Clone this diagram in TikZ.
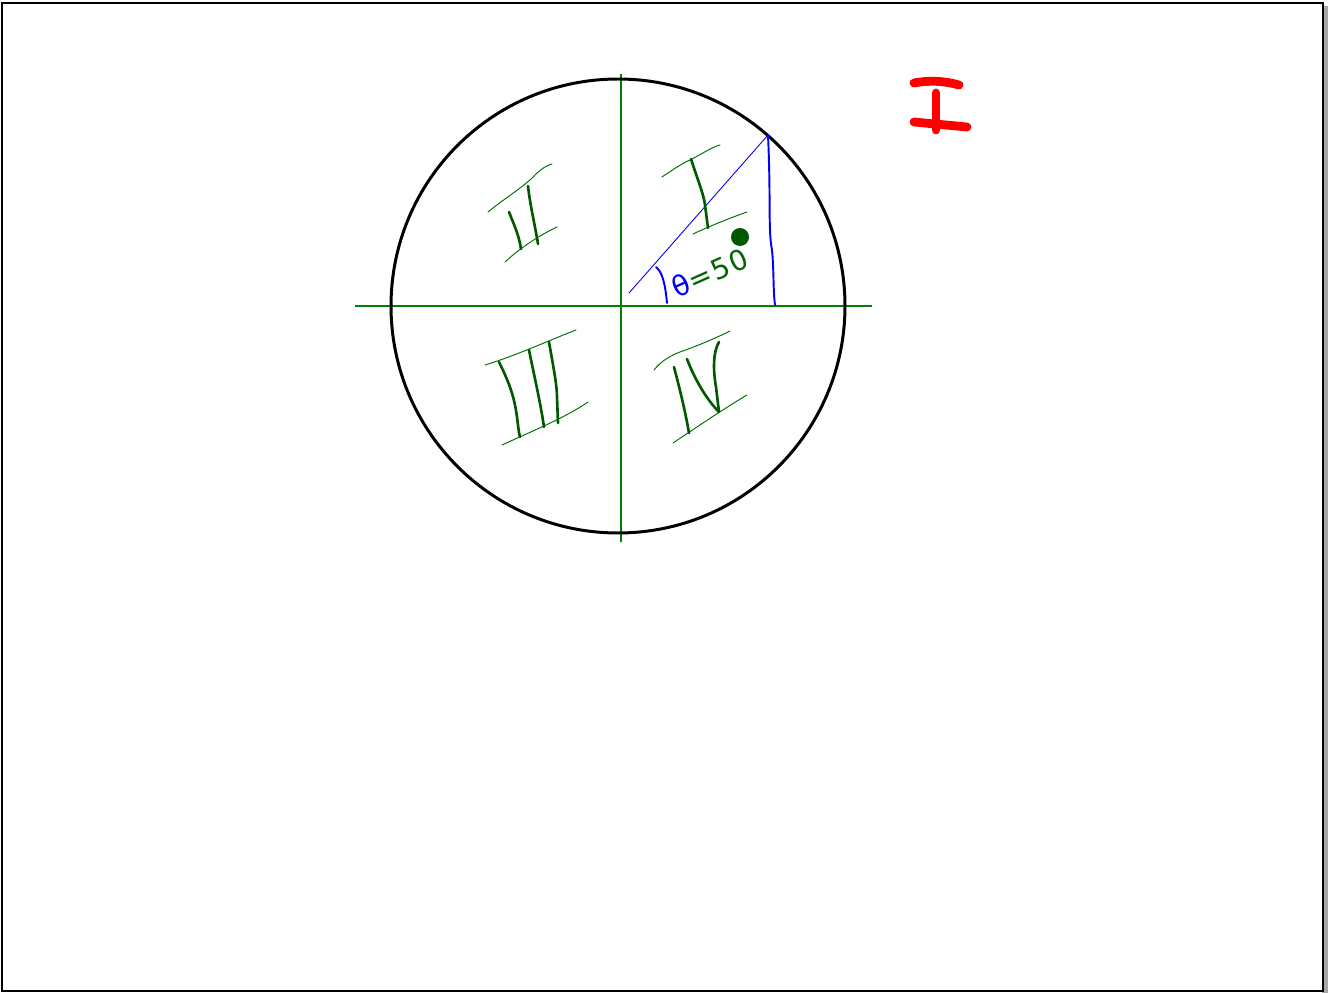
\documentclass[tikz,border=0pt]{standalone}
\usepackage{fontspec}
\setsansfont{DejaVu Sans}
\begin{document}
\begin{tikzpicture}[x=0.02cm,y=-0.02cm,
  axis/.style={draw=green!50!black, line width=0.8pt},
  serif/.style={draw=green!45!black, line width=0.55pt, line cap=round},
  stem/.style={draw=green!35!black, line width=1.5pt, line cap=round},
  bluepen/.style={draw=blue, line cap=round},
  redpen/.style={draw=red, line width=5pt, line cap=round},
  frame/.style={draw=black, line width=1.3pt}]
\useasboundingbox (0,0) rectangle (1333,993);
% frame with shadow
\fill[gray!70] (1322,6) rectangle (1328,993);
\draw[frame] (2,3) rectangle (1323,991);
% axes
\draw[axis] (355,306) -- (872,306);
\draw[axis] (621,74) -- (621,542);
% circle
\draw[black, line width=1.7pt] (618,306) circle[radius=227];
% blue triangle
\coordinate (o) at (629,293);
\coordinate (p) at (768,135);
\coordinate (q) at (775,305);
\draw[bluepen, line width=0.5pt] (o) -- (p);
\draw[bluepen, line width=1.1pt] (p) .. controls (771,200) and (768,230) .. (772,250) .. controls (774,270) and (773,290) .. (q);
\draw[bluepen, line width=1.1pt] (656,267) .. controls (662,272) and (665,282) .. (667,303);
% angle label
\node[rotate=24, font=\sffamily\fontsize{16}{16}\selectfont\addfontfeature{LetterSpace=6}, inner sep=0pt] (lab) at (710,273) {\textcolor{blue}{θ}\textcolor{green!40!black}{=50}};
% dot
\fill[green!35!black] (740,237) circle[radius=9];
% numeral I
\draw[serif] (662,177) .. controls (675,168) and (685,162) .. (690,160) .. controls (700,155) and (712,147) .. (720,145);
\draw[serif] (693,234) .. controls (710,226) and (730,218) .. (747,212);
\draw[stem] (691,159) .. controls (697,178) and (704,195) .. (705,205) -- (708,228);
% numeral II
\draw[serif] (488,212) .. controls (505,198) and (525,186) .. (535,175) .. controls (542,168) and (548,165) .. (552,164);
\draw[serif] (505,262) .. controls (520,248) and (540,235) .. (557,227);
\draw[stem] (509,212) .. controls (514,225) and (519,235) .. (521,249);
\draw[stem] (528,186) .. controls (530,205) and (535,225) .. (538,244);
% numeral III
\draw[serif] (485,365) .. controls (515,356) and (550,340) .. (576,330);
\draw[serif] (502,445) .. controls (530,432) and (565,418) .. (588,402);
\draw[stem] (499,362) .. controls (506,376) and (512,390) .. (515,405) .. controls (518,420) and (518,430) .. (520,437);
\draw[stem] (529,350) .. controls (534,375) and (540,400) .. (544,427);
\draw[stem] (549,342) .. controls (553,365) and (557,385) .. (557,397) -- (558,423);
% numeral IV
\draw[serif] (654,370) .. controls (662,360) and (672,355) .. (680,352) .. controls (700,345) and (718,337) .. (730,331);
\draw[serif] (673,443) .. controls (700,425) and (725,408) .. (747,395);
\draw[stem] (674,367) .. controls (680,390) and (685,410) .. (689,433);
\draw[stem] (687,359) .. controls (695,380) and (707,400) .. (719,412);
\draw[stem] (719,342) .. controls (713,352) and (713,370) .. (716,387) -- (719,412);
% red I
\draw[redpen] (914,83) .. controls (930,80) and (945,81) .. (959,85);
\draw[redpen] (936,93) -- (936,130);
\draw[redpen] (914,122) -- (967,127);
\end{tikzpicture}
\end{document}
